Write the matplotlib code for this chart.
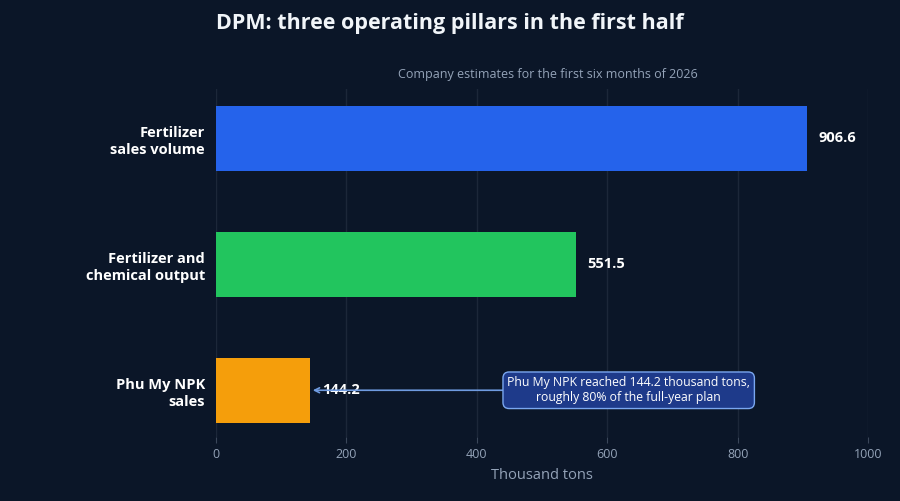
import matplotlib
matplotlib.use("Agg")
import matplotlib.pyplot as plt

plt.rcParams["font.family"] = ["Open Sans", "Noto Sans", "DejaVu Sans"]

categories = ["Fertilizer\nsales volume", "Fertilizer and\nchemical output", "Phu My NPK\nsales"]
values = [906.6, 551.5, 144.2]
bar_colors = ["#2563eb", "#22c55e", "#f59e0b"]
xticks = [0, 200, 400, 600, 800, 1000]
note_text = "Phu My NPK reached 144.2 thousand tons,\nroughly 80% of the full-year plan"

bg = "#0b1628"
grid_c = "#1c2739"
muted = "#94a3b8"

fig = plt.figure(figsize=(9, 5.01), dpi=100, facecolor=bg)
ax = fig.add_axes([0.24, 0.128, 0.7244, 0.694], facecolor=bg)

ypos = list(range(len(categories)))
ax.barh(ypos, values, height=0.52, color=bar_colors, zorder=3)
for y, v in zip(ypos, values):
    ax.text(v + 18, y, f"{v:.1f}", va="center", ha="left", color="white",
            fontsize=10.5, fontweight="bold", zorder=5)

ax.set_xlim(0, 1000)
ax.set_ylim(2.37, -0.39)
ax.set_xticks(xticks)
ax.set_xticklabels([str(t) for t in xticks])
ax.set_yticks(ypos)
ax.set_yticklabels(categories, fontsize=10.5, fontweight="bold", color="white",
                   linespacing=1.3)
ax.tick_params(axis="y", length=0, pad=8)
ax.tick_params(axis="x", colors=muted, labelsize=9, length=4, width=0.8, color="#3b475a", pad=4)
ax.xaxis.grid(True, color=grid_c, linewidth=1, zorder=0)
for s in ax.spines.values():
    s.set_visible(False)
ax.set_xlabel("Thousand tons", color=muted, fontsize=10.5, labelpad=5)

ax.annotate(note_text, xy=(144.2, 2), xytext=(633, 2), ha="center", va="center",
            color="white", fontsize=8.8, zorder=6,
            bbox=dict(boxstyle="round,pad=0.35,rounding_size=0.5", fc="#1e3a8a", ec="#7aa7f0", lw=1),
            arrowprops=dict(arrowstyle="->", color="#6f9be0", lw=1.2, shrinkA=0, shrinkB=2))

fig.text(0.24, 0.953, "DPM: three operating pillars in the first half", ha="left", va="center",
         color="#f1f5f9", fontsize=15.5, fontweight="bold")
fig.text(0.609, 0.851, "Company estimates for the first six months of 2026", ha="center", va="center",
         color=muted, fontsize=9)

fig.savefig("out.png", dpi=100, facecolor=bg)
